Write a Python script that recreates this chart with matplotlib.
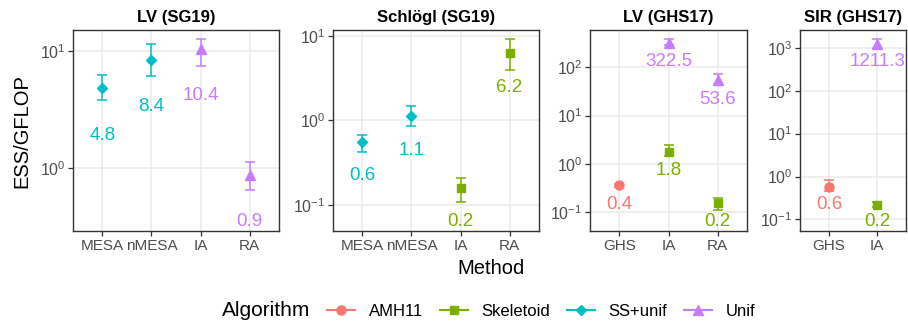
import numpy as np
import matplotlib
matplotlib.use("Agg")
import matplotlib.pyplot as plt
from matplotlib.lines import Line2D
from matplotlib.ticker import LogLocator, LogFormatterSciNotation, NullLocator

plt.rcParams['font.family'] = ['Liberation Sans', 'DejaVu Sans']
plt.rcParams['mathtext.fontset'] = 'custom'
plt.rcParams['mathtext.rm'] = 'Liberation Sans'
plt.rcParams['mathtext.it'] = 'Liberation Sans:italic'
plt.rcParams['mathtext.default'] = 'regular'

# algorithm colours / shapes (ggplot hue palette)
alg_names = ['AMH11', 'Skeletoid', 'SS+unif', 'Unif']
alg_colors = ['#F8766D', '#7CAE00', '#00BFC4', '#C77CFF']
alg_markers = ['o', 's', 'D', '^']
alg_ms = [6.5, 6, 5.5, 7.5]

# ---- data ----
titles = ['LV (SG19)', 'Schlögl (SG19)', 'LV (GHS17)', 'SIR (GHS17)']

lv_sg19_cats = ['MESA', 'nMESA', 'IA', 'RA']
lv_sg19_method = ['MESA', 'nMESA', 'IA', 'RA']
lv_sg19_alg = ['SS+unif', 'SS+unif', 'Unif', 'Unif']
lv_sg19_ess = [4.8, 8.4, 10.4, 0.88]
lv_sg19_lo = [3.85, 6.1, 7.5, 0.65]
lv_sg19_hi = [6.2, 11.5, 12.6, 1.13]

schlogl_cats = ['MESA', 'nMESA', 'IA', 'RA']
schlogl_method = ['MESA', 'nMESA', 'IA', 'RA']
schlogl_alg = ['SS+unif', 'SS+unif', 'Skeletoid', 'Skeletoid']
schlogl_ess = [0.56, 1.12, 0.16, 6.2]
schlogl_lo = [0.42, 0.86, 0.108, 3.9]
schlogl_hi = [0.67, 1.47, 0.21, 9.1]

lv_ghs_cats = ['GHS', 'IA', 'RA']
lv_ghs_method = ['GHS', 'IA', 'IA', 'RA', 'RA']
lv_ghs_alg = ['AMH11', 'Skeletoid', 'Unif', 'Skeletoid', 'Unif']
lv_ghs_ess = [0.36, 1.8, 322.5, 0.16, 53.6]
lv_ghs_lo = [0.34, 1.44, 285, 0.11, 45]
lv_ghs_hi = [0.38, 2.43, 380, 0.2, 72]

sir_cats = ['GHS', 'IA']
sir_method = ['GHS', 'IA', 'IA']
sir_alg = ['AMH11', 'Skeletoid', 'Unif']
sir_ess = [0.57, 0.22, 1211.3]
sir_lo = [0.45, 0.19, 1000]
sir_hi = [0.81, 0.25, 1600]

panels = [
    (lv_sg19_cats, lv_sg19_method, lv_sg19_alg, lv_sg19_ess, lv_sg19_lo, lv_sg19_hi),
    (schlogl_cats, schlogl_method, schlogl_alg, schlogl_ess, schlogl_lo, schlogl_hi),
    (lv_ghs_cats, lv_ghs_method, lv_ghs_alg, lv_ghs_ess, lv_ghs_lo, lv_ghs_hi),
    (sir_cats, sir_method, sir_alg, sir_ess, sir_lo, sir_hi),
]

# panel placement in pixels (left, width); all share top/bottom
W, H = 908, 322
rects = [(73, 206), (333, 206), (590, 157), (800, 106)]
top_px, bot_px = 30, 231
nudge = 0.4  # label offset, decades below the point

fig = plt.figure(figsize=(W / 100, H / 100), dpi=100)

for (cats, meth, alg, ess, lo, hi), (lx, w), title in zip(panels, rects, titles):
    ax = fig.add_axes([lx / W, 1 - bot_px / H, w / W, (bot_px - top_px) / H])
    ax.set_yscale('log')
    ax.grid(True, which='major', color='#EBEBEB', lw=1.1, zorder=0)
    ax.set_axisbelow(True)
    for sp in ax.spines.values():
        sp.set_color('#333333')
        sp.set_linewidth(1.0)

    xs = [cats.index(m) for m in meth]
    lab_y = []
    for x, a, v, l, h in zip(xs, alg, ess, lo, hi):
        i = alg_names.index(a)
        c = alg_colors[i]
        ax.errorbar([x], [v], yerr=[[v - l], [h - v]], fmt='none', ecolor=c,
                    elinewidth=1.1, capsize=3.6, capthick=1.1, zorder=3)
        ax.plot([x], [v], marker=alg_markers[i], color=c, ms=alg_ms[i],
                ls='none', zorder=4)
        ly = v / 10 ** nudge
        lab_y.append(ly)
        ax.text(x, ly, f'{v:.1f}', color=c, fontsize=13.5, ha='center',
                va='center', zorder=5)

    # ggplot-like 5% expansion in log space
    ymin = np.log10(min(min(lab_y), min(lo)))
    ymax = np.log10(max(max(hi), max(ess)))
    pad = 0.05 * (ymax - ymin)
    ax.set_ylim(10 ** (ymin - pad), 10 ** (ymax + pad))
    ax.set_xlim(-0.6, len(cats) - 0.4)

    ax.set_xticks(range(len(cats)))
    ax.set_xticklabels(cats)
    ax.yaxis.set_major_locator(LogLocator(base=10, numticks=10))
    ax.yaxis.set_major_formatter(LogFormatterSciNotation())
    ax.yaxis.set_minor_locator(NullLocator())
    ax.tick_params(axis='both', which='major', length=3.6, width=0.9,
                   color='#333333', labelcolor='#4D4D4D', pad=2)
    ax.tick_params(axis='x', labelsize=11)
    ax.tick_params(axis='y', labelsize=11.5)
    ax.set_title(title, fontsize=12, fontweight='bold', pad=6)

fig.text(22 / W, 1 - 131 / H, 'ESS/GFLOP', rotation=90, fontsize=14.5,
         ha='center', va='center')
fig.text(491 / W, 1 - 268 / H, 'Method', fontsize=14.5, ha='center', va='center')

# legend
fig.text(222 / W, 1 - 311 / H, 'Algorithm', fontsize=15, ha='left', va='center')
handles = [Line2D([0], [0], color=c, marker=m, ms=ms, lw=1.5)
           for c, m, ms in zip(alg_colors, alg_markers, alg_ms)]
fig.legend(handles, alg_names, ncol=4, loc='center left',
           bbox_to_anchor=(327 / W, 1 - 311 / H), frameon=False, fontsize=12,
           handlelength=1.7, handletextpad=0.8, columnspacing=1.0,
           borderpad=0, borderaxespad=0)

fig.savefig('out.png', dpi=100)
